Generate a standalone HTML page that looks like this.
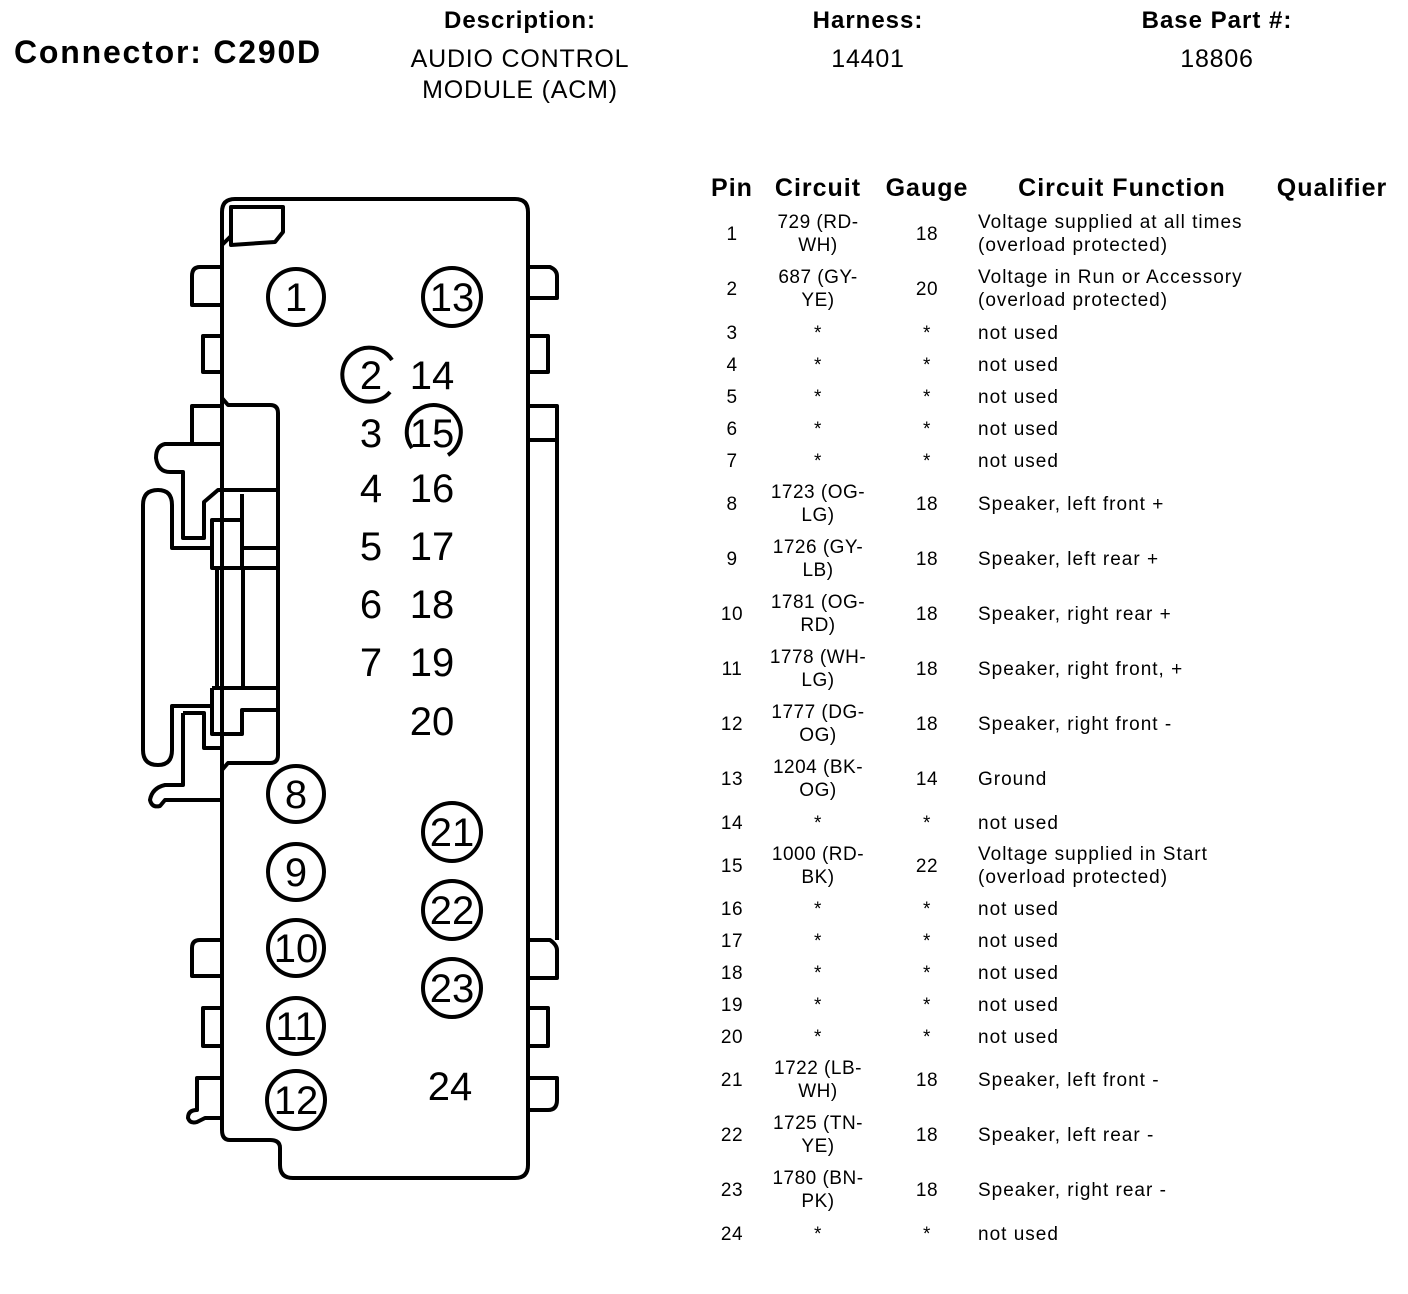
<!DOCTYPE html>
<html><head><style>
body{margin:0;background:#fff;}
svg{display:block;font-family:"Liberation Sans",sans-serif;}
</style></head><body>
<svg width="1408" height="1294" viewBox="0 0 1408 1294" xmlns="http://www.w3.org/2000/svg">
<g font-weight="bold" fill="#000">
<text x="14" y="63" font-size="32" letter-spacing="1.8">Connector: C290D</text>
<text x="520" y="28" font-size="24" text-anchor="middle" letter-spacing="1">Description:</text>
<text x="868" y="28" font-size="24" text-anchor="middle" letter-spacing="1">Harness:</text>
<text x="1217" y="28" font-size="24" text-anchor="middle" letter-spacing="1">Base Part #:</text>
</g>
<g font-size="25" fill="#000" text-anchor="middle" letter-spacing="0.8">
<text x="520" y="67">AUDIO CONTROL</text>
<text x="520" y="98">MODULE (ACM)</text>
<text x="868" y="67">14401</text>
<text x="1217" y="67">18806</text>
</g>
<g font-weight="bold" font-size="25" fill="#000" letter-spacing="1">
<text x="732" y="196" text-anchor="middle">Pin</text>
<text x="818" y="196" text-anchor="middle">Circuit</text>
<text x="927" y="196" text-anchor="middle">Gauge</text>
<text x="1122" y="196" text-anchor="middle">Circuit Function</text>
<text x="1332" y="196" text-anchor="middle">Qualifier</text>
</g>
<g font-size="19" fill="#000" letter-spacing="0.5">
<g text-anchor="middle">
<text x="732" y="240">1</text><text x="818" y="228">729 (RD-</text><text x="818" y="251">WH)</text><text x="927" y="240">18</text>
<text x="732" y="295">2</text><text x="818" y="283">687 (GY-</text><text x="818" y="306">YE)</text><text x="927" y="295">20</text>
<text x="732" y="339">3</text><text x="818" y="339">*</text><text x="927" y="339">*</text>
<text x="732" y="371">4</text><text x="818" y="371">*</text><text x="927" y="371">*</text>
<text x="732" y="403">5</text><text x="818" y="403">*</text><text x="927" y="403">*</text>
<text x="732" y="435">6</text><text x="818" y="435">*</text><text x="927" y="435">*</text>
<text x="732" y="467">7</text><text x="818" y="467">*</text><text x="927" y="467">*</text>
<text x="732" y="510">8</text><text x="818" y="498">1723 (OG-</text><text x="818" y="521">LG)</text><text x="927" y="510">18</text>
<text x="732" y="565">9</text><text x="818" y="553">1726 (GY-</text><text x="818" y="576">LB)</text><text x="927" y="565">18</text>
<text x="732" y="620">10</text><text x="818" y="608">1781 (OG-</text><text x="818" y="631">RD)</text><text x="927" y="620">18</text>
<text x="732" y="675">11</text><text x="818" y="663">1778 (WH-</text><text x="818" y="686">LG)</text><text x="927" y="675">18</text>
<text x="732" y="730">12</text><text x="818" y="718">1777 (DG-</text><text x="818" y="741">OG)</text><text x="927" y="730">18</text>
<text x="732" y="785">13</text><text x="818" y="773">1204 (BK-</text><text x="818" y="796">OG)</text><text x="927" y="785">14</text>
<text x="732" y="829">14</text><text x="818" y="829">*</text><text x="927" y="829">*</text>
<text x="732" y="872">15</text><text x="818" y="860">1000 (RD-</text><text x="818" y="883">BK)</text><text x="927" y="872">22</text>
<text x="732" y="915">16</text><text x="818" y="915">*</text><text x="927" y="915">*</text>
<text x="732" y="947">17</text><text x="818" y="947">*</text><text x="927" y="947">*</text>
<text x="732" y="979">18</text><text x="818" y="979">*</text><text x="927" y="979">*</text>
<text x="732" y="1011">19</text><text x="818" y="1011">*</text><text x="927" y="1011">*</text>
<text x="732" y="1043">20</text><text x="818" y="1043">*</text><text x="927" y="1043">*</text>
<text x="732" y="1086">21</text><text x="818" y="1074">1722 (LB-</text><text x="818" y="1097">WH)</text><text x="927" y="1086">18</text>
<text x="732" y="1141">22</text><text x="818" y="1129">1725 (TN-</text><text x="818" y="1152">YE)</text><text x="927" y="1141">18</text>
<text x="732" y="1196">23</text><text x="818" y="1184">1780 (BN-</text><text x="818" y="1207">PK)</text><text x="927" y="1196">18</text>
<text x="732" y="1240">24</text><text x="818" y="1240">*</text><text x="927" y="1240">*</text>
</g>
<g letter-spacing="1">
<text x="978" y="228">Voltage supplied at all times</text><text x="978" y="251">(overload protected)</text>
<text x="978" y="283">Voltage in Run or Accessory</text><text x="978" y="306">(overload protected)</text>
<text x="978" y="339">not used</text><text x="978" y="371">not used</text><text x="978" y="403">not used</text>
<text x="978" y="435">not used</text><text x="978" y="467">not used</text>
<text x="978" y="510">Speaker, left front +</text>
<text x="978" y="565">Speaker, left rear +</text>
<text x="978" y="620">Speaker, right rear +</text>
<text x="978" y="675">Speaker, right front, +</text>
<text x="978" y="730">Speaker, right front -</text>
<text x="978" y="785">Ground</text>
<text x="978" y="829">not used</text>
<text x="978" y="860">Voltage supplied in Start</text><text x="978" y="883">(overload protected)</text>
<text x="978" y="915">not used</text><text x="978" y="947">not used</text><text x="978" y="979">not used</text>
<text x="978" y="1011">not used</text><text x="978" y="1043">not used</text>
<text x="978" y="1086">Speaker, left front -</text>
<text x="978" y="1141">Speaker, left rear -</text>
<text x="978" y="1196">Speaker, right rear -</text>
<text x="978" y="1240">not used</text>
</g>
</g>

<g fill="none" stroke="#000" stroke-width="4" stroke-linejoin="round">
<path d="M222,212 Q222,199 235,199 L515,199 Q528,199 528,212 L528,1165 Q528,1178 515,1178 L293,1178 Q280,1178 280,1165 L280,1148 Q280,1140 270,1140 L230,1140 Q222,1140 222,1130 Z"/>
<path d="M231,245 L231,207 L283,207 L283,232 L275,242 Z"/>
<path d="M222,245 L231,236"/>
<path d="M222,267 L200,267 Q192,267 192,276 L192,305 L222,305"/>
<path d="M222,336 L203,336 L203,372 L222,372"/>
<path d="M222,940 L200,940 Q192,940 192,948 L192,976 L222,976"/>
<path d="M222,1008 L203,1008 L203,1046 L222,1046"/>
<path d="M222,1078 L197,1078 L197,1110 Q188,1110 188,1118 Q190,1124 197,1122 L205,1118 L222,1118"/>
<path d="M528,267 L550,267 Q557,270 557,276 L557,298 L528,298"/>
<path d="M528,336 L548,336 L548,372 L528,372"/>
<path d="M528,406 L557,406 L557,940 M557,440 L528,440"/>
<path d="M528,940 L550,940 Q557,945 557,950 L557,978 L528,978"/>
<path d="M528,1008 L548,1008 L548,1046 L528,1046"/>
<path d="M528,1078 L557,1078 L557,1100 Q557,1110 548,1110 L528,1110"/>
<path d="M222,398 L228,405 L270,405 Q278,405 278,413 L278,755 Q278,763 270,763 L228,763 L222,770"/>
<path d="M222,406 L192,406 L192,444"/>
<path d="M222,444 L165,444 Q156,446 156,458 Q158,472 170,472 L183,472 L183,538 L204,538 L204,502 L218,490 L278,490"/>
<path d="M143,505 Q143,490 158,490 Q172,490 172,505 L172,548 L212,548"/>
<path d="M212,520 L242,520 L242,568 L212,568 Z"/>
<path d="M242,494 L242,520 M242,548 L278,548 M212,568 L278,568"/>
<path d="M217,568 L217,688 M243,568 L243,688"/>
<path d="M212,688 L278,688 M212,688 L212,734 L242,734 L242,710 L278,710"/>
<path d="M143,505 L143,750 Q143,765 158,765 Q172,765 172,750 L172,706 L212,706"/>
<path d="M183,713 L204,713 L204,748 L222,748"/>
<path d="M183,713 L183,785 L165,785 Q152,788 150,800 Q152,808 160,806 L165,800 L222,800"/>
</g>
<g fill="none" stroke="#000" stroke-width="4">
<circle cx="296" cy="297" r="28"/>
<circle cx="452" cy="297" r="29"/>
<circle cx="296" cy="794" r="28"/>
<circle cx="452" cy="832" r="29"/>
<circle cx="296" cy="872" r="28"/>
<circle cx="452" cy="910" r="29"/>
<circle cx="296" cy="948" r="28"/>
<circle cx="452" cy="988" r="29"/>
<circle cx="296" cy="1026" r="28"/>
<circle cx="296" cy="1100" r="29"/>
<path d="M392,360 A27,27 0 1 0 390,392"/>
<path d="M412,448 A27,27 0 1 1 448,455"/>
</g>
<g font-size="40" fill="#000" text-anchor="middle">
<text x="296" y="311">1</text><text x="452" y="311">13</text>
<text x="371" y="389">2</text><text x="432" y="389">14</text>
<text x="371" y="447">3</text><text x="432" y="447">15</text>
<text x="371" y="502">4</text><text x="432" y="502">16</text>
<text x="371" y="560">5</text><text x="432" y="560">17</text>
<text x="371" y="618">6</text><text x="432" y="618">18</text>
<text x="371" y="676">7</text><text x="432" y="676">19</text>
<text x="432" y="735">20</text>
<text x="296" y="808">8</text><text x="452" y="846">21</text>
<text x="296" y="886">9</text><text x="452" y="924">22</text>
<text x="296" y="962">10</text><text x="452" y="1002">23</text>
<text x="296" y="1040">11</text><text x="296" y="1114">12</text>
<text x="450" y="1100">24</text>
</g>
</svg>
</body></html>
